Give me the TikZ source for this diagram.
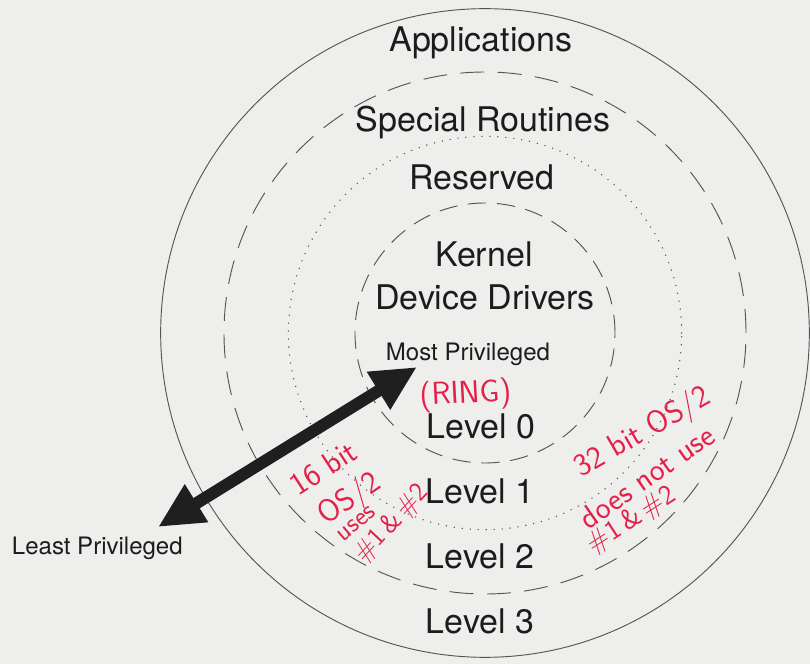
\documentclass[tikz,border=0pt]{standalone}
\usepackage{fontspec}
\setmainfont{TeX Gyre Heros}
\usetikzlibrary{arrows.meta}
\definecolor{paper}{RGB}{238,238,237}
\definecolor{ringline}{RGB}{85,85,85}
\definecolor{inkred}{RGB}{228,32,72}
\definecolor{textgray}{RGB}{28,28,28}

\begin{document}
\begin{tikzpicture}[
  ring/.style={draw=ringline, line width=0.8pt},
  dashring/.style={ring, dash pattern=on 0.72cm off 0.4cm},
  shortdash/.style={ring, dash pattern=on 0.55cm off 0.32cm},
  dotring/.style={ring, line width=1.3pt, line cap=round,
                  dash pattern=on 0pt off 0.24cm},
  lvl/.style={anchor=base, text=textgray, inner sep=0pt,
              font=\fontsize{29}{32}\selectfont},
  tag/.style={lvl, font=\fontsize{20.5}{24}\selectfont},
  note/.style={text=inkred, inner sep=0pt,
               font=\sffamily\fontsize{27}{30}\selectfont},
  smallnote/.style={note, font=\sffamily\fontsize{23}{26}\selectfont},
  priv/.style={{Triangle[length=1.36cm,width=1.24cm]}-{Triangle[length=1.36cm,width=1.24cm]},
               line width=0.36cm, draw=black!88}
]
\fill[paper] (-14.55,-9.93) rectangle (9.75,9.99);
\useasboundingbox (-14.55,-9.93) rectangle (9.75,9.99);

% ---- rings, innermost to outermost
\coordinate (c) at (0,0);
\draw[shortdash] (c) circle (3.9);
\draw[dotring]   (c) circle (5.9);
\draw[dashring]  (c) circle (7.83);
\draw[ring]      (c) circle (9.73);

% ---- ring contents
\node[lvl] (app)  at (-0.12,8.43) {Applications};
\node[lvl] (spec) at (-0.06,6.03) {Special Routines};
\node[lvl] (resv) at (-0.09,4.29) {Reserved};
\node[lvl] (kern) at (-0.03,1.98) {Kernel};
\node[lvl] (drv)  at (0.0,0.69)   {Device Drivers};
\node[tag] (most) at (-0.51,-0.84) {Most Privileged};
\node[lvl] (lvl0) at (-0.12,-3.18) {Level 0};
\node[lvl] (lvl1) at (-0.15,-5.1)  {Level 1};
\node[lvl] (lvl2) at (-0.15,-7.05) {Level 2};
\node[lvl] (lvl3) at (-0.15,-9.0)  {Level 3};
\node[tag] (least) at (-11.63,-6.63) {Least Privileged};

% ---- privilege arrow
\coordinate (lowend) at (-9.81,-5.82);
\coordinate (highend) at (-2.04,-1.02);
\draw[priv] (lowend) -- (highend);

% ---- pen notes
\node[note, rotate=3] (ring) at (-0.57,-1.86) {(RING)};
\node[note, rotate=33] (n16)   at (-4.85,-4.05) {16 bit};
\node[note, rotate=35] (nos)   at (-4.05,-5.0)  {OS/2};
\node[smallnote, rotate=40] (nuses) at (-3.85,-5.72) {uses};
\node[smallnote, rotate=47] (nnum)  at (-2.8,-5.72)  {\#1\,\&\,\#2};
\node[note, rotate=30] (n32)   at (4.74,-3.0)   {32 bit OS/2};
\node[note, rotate=35] (nnot)  at (4.85,-4.3)   {does not use};
\node[note, rotate=33, font=\sffamily\fontsize{24}{27}\selectfont]
  (nnum2) at (4.4,-5.62) {\#1\,\&\,\#2};
\end{tikzpicture}
\end{document}
